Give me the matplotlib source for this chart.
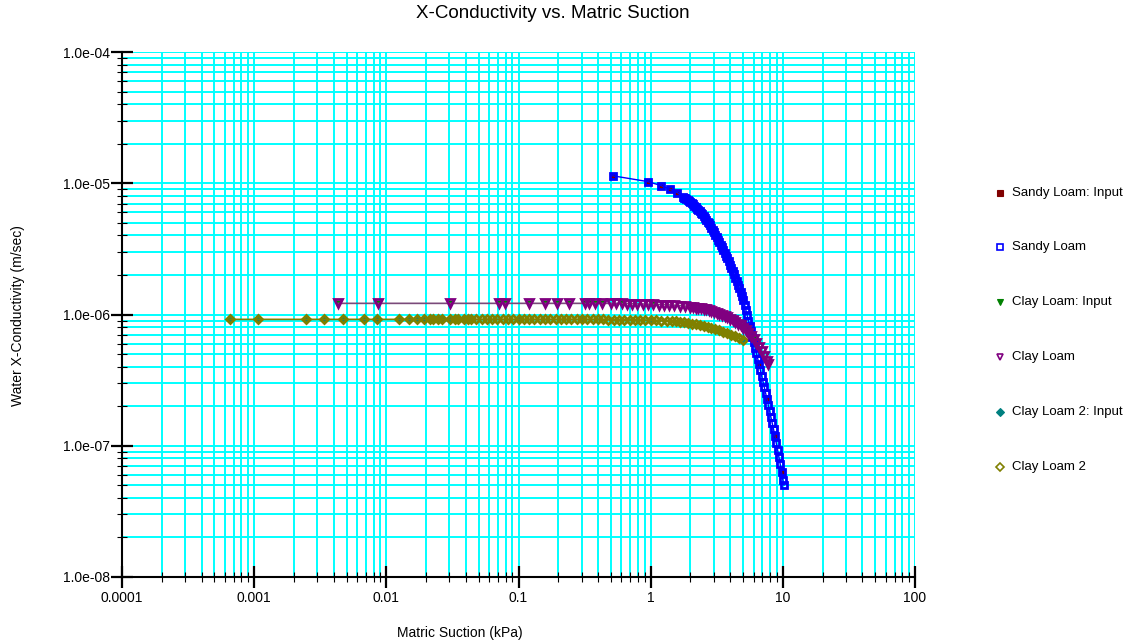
import matplotlib
matplotlib.use("Agg")
import matplotlib.pyplot as plt
from matplotlib.lines import Line2D
from matplotlib.ticker import LogLocator, FixedLocator, NullFormatter, FixedFormatter

plt.rcParams['font.family'] = ['Liberation Sans', 'DejaVu Sans']

title = "X-Conductivity vs. Matric Suction"
x_label = "Matric Suction (kPa)"
y_label = "Water X-Conductivity (m/sec)"
x_ticks = [0.0001, 0.001, 0.01, 0.1, 1, 10, 100]
x_tick_labels = ["0.0001", "0.001", "0.01", "0.1", "1", "10", "100"]
y_ticks = [1e-8, 1e-7, 1e-6, 1e-5, 1e-4]
y_tick_labels = ["1.0e-08", "1.0e-07", "1.0e-06", "1.0e-05", "1.0e-04"]
legend_labels = ["Sandy Loam: Input", "Sandy Loam", "Clay Loam: Input",
                 "Clay Loam", "Clay Loam 2: Input", "Clay Loam 2"]

# ---- Sandy Loam (computed) ----
sandy_x = [0.516, 0.948, 1.20, 1.40, 1.59, 1.75,
           1.778, 1.820, 1.862, 1.905, 1.950, 1.995, 2.042, 2.089, 2.138, 2.188,
           2.239, 2.291, 2.344, 2.399, 2.455, 2.512, 2.570, 2.630, 2.692, 2.754,
           2.818, 2.884, 2.951, 3.020, 3.090, 3.162, 3.236, 3.311, 3.388, 3.467,
           3.548, 3.631, 3.715, 3.802, 3.890, 3.981, 4.074, 4.169, 4.266, 4.365,
           4.467, 4.571, 4.677, 4.786, 4.898,
           5.012, 5.129, 5.248, 5.370, 5.495, 5.623, 5.754, 5.888, 6.026, 6.166,
           6.310, 6.457, 6.607, 6.761, 6.918, 7.079, 7.244, 7.413, 7.586, 7.762,
           7.943, 8.128, 8.318, 8.511, 8.710, 8.913, 9.120, 9.333, 9.550, 9.772,
           10.0, 10.19]
sandy_y = [1.14e-5, 1.03e-5, 9.6e-6, 9.0e-6, 8.5e-6, 7.9e-6,
           7.75e-6, 7.67e-6, 7.55e-6, 7.43e-6, 7.31e-6, 7.19e-6, 7.05e-6, 6.90e-6,
           6.72e-6, 6.55e-6, 6.40e-6, 6.25e-6, 6.11e-6, 5.98e-6, 5.81e-6, 5.64e-6,
           5.46e-6, 5.28e-6, 5.11e-6, 4.95e-6, 4.77e-6, 4.59e-6, 4.41e-6, 4.23e-6,
           4.06e-6, 3.89e-6, 3.72e-6, 3.56e-6, 3.40e-6, 3.24e-6, 3.09e-6, 2.95e-6,
           2.81e-6, 2.68e-6, 2.54e-6, 2.40e-6, 2.27e-6, 2.14e-6, 2.02e-6, 1.91e-6,
           1.79e-6, 1.68e-6, 1.58e-6, 1.48e-6, 1.39e-6,
           1.297e-6, 1.186e-6, 1.081e-6, 9.86e-7, 8.99e-7, 8.20e-7, 7.48e-7,
           6.79e-7, 6.17e-7, 5.60e-7, 5.07e-7, 4.60e-7, 4.17e-7, 3.77e-7, 3.40e-7,
           3.08e-7, 2.78e-7, 2.51e-7, 2.26e-7, 2.04e-7, 1.84e-7, 1.65e-7, 1.48e-7,
           1.33e-7, 1.19e-7, 1.05e-7, 9.33e-8, 8.22e-8, 7.24e-8, 6.31e-8, 5.50e-8,
           5.01e-8]
# ---- Sandy Loam: Input ----
sandy_in_x = [0.516, 0.948, 1.20, 1.40, 1.59, 1.75, 1.995, 2.399, 3.020, 3.981,
              5.012, 6.607, 7.586, 8.710, 9.772]
sandy_in_y = [1.14e-5, 1.03e-5, 9.6e-6, 9.0e-6, 8.5e-6, 7.9e-6, 7.19e-6, 5.98e-6,
              4.23e-6, 2.40e-6, 1.297e-6, 4.17e-7, 2.26e-7, 1.19e-7, 6.31e-8]

# ---- Clay Loam (computed) ----
clay_x = [0.00434, 0.00869, 0.0303, 0.0711, 0.079, 0.121, 0.158, 0.195, 0.241,
          0.318, 0.343, 0.380, 0.426,
          0.501, 0.550, 0.603, 0.661, 0.724, 0.794, 0.871, 0.955, 1.047, 1.148,
          1.259, 1.380, 1.514, 1.660, 1.820, 1.995, 2.089, 2.188, 2.291, 2.399,
          2.512, 2.630, 2.754, 2.884, 3.020, 3.162, 3.311, 3.467, 3.631, 3.802,
          3.981, 4.169, 4.365, 4.571, 4.786, 5.012, 5.248, 5.495, 5.754, 6.026,
          6.310, 6.607, 6.918, 7.244, 7.586, 7.727]
clay_y = [1.216e-6, 1.216e-6, 1.216e-6, 1.216e-6, 1.216e-6, 1.216e-6, 1.216e-6,
          1.216e-6, 1.216e-6, 1.216e-6, 1.216e-6, 1.216e-6, 1.216e-6,
          1.216e-6, 1.216e-6, 1.213e-6, 1.211e-6, 1.208e-6, 1.205e-6, 1.202e-6,
          1.199e-6, 1.197e-6, 1.191e-6, 1.189e-6, 1.183e-6, 1.178e-6, 1.169e-6,
          1.159e-6, 1.146e-6, 1.138e-6, 1.130e-6, 1.122e-6, 1.114e-6, 1.107e-6,
          1.096e-6, 1.084e-6, 1.069e-6, 1.052e-6, 1.033e-6, 1.012e-6, 9.91e-7,
          9.70e-7, 9.51e-7, 9.29e-7, 9.04e-7, 8.79e-7, 8.53e-7, 8.26e-7, 7.94e-7,
          7.62e-7, 7.28e-7, 6.89e-7, 6.52e-7, 6.11e-7, 5.69e-7, 5.27e-7, 4.86e-7,
          4.45e-7, 4.22e-7]
# ---- Clay Loam: Input ----
clay_in_x = [0.00434, 0.00869, 0.0303, 0.0711, 0.079, 0.121, 0.158, 0.195, 0.241,
             0.318, 0.343, 0.380, 0.426, 0.603, 1.047, 1.995, 3.020, 4.365, 6.026, 7.727]
clay_in_y = [1.216e-6, 1.216e-6, 1.216e-6, 1.216e-6, 1.216e-6, 1.216e-6, 1.216e-6,
             1.216e-6, 1.216e-6, 1.216e-6, 1.216e-6, 1.216e-6, 1.216e-6, 1.213e-6,
             1.197e-6, 1.146e-6, 1.052e-6, 8.79e-7, 6.52e-7, 4.22e-7]

# ---- Clay Loam 2 (computed) ----
clay2_x = [0.000656, 0.00107, 0.00247, 0.0034, 0.00472, 0.00681, 0.00845, 0.0125,
           0.0148, 0.0170, 0.0194, 0.0214, 0.0226, 0.0247, 0.0262, 0.0303, 0.0331,
           0.0350, 0.0389, 0.0417,
           0.0437, 0.0479, 0.0525, 0.0575, 0.0631, 0.0692, 0.0759, 0.0832, 0.0912,
           0.100, 0.110, 0.120, 0.132, 0.145, 0.158, 0.174, 0.191, 0.209, 0.229,
           0.251, 0.275, 0.302, 0.331, 0.363, 0.398, 0.437, 0.479, 0.525, 0.575,
           0.631, 0.692, 0.759, 0.832, 0.912, 1.000, 1.096, 1.202, 1.318, 1.445,
           1.549, 1.660, 1.778, 1.905, 2.042, 2.188, 2.344, 2.512, 2.692, 2.884,
           3.090, 3.311, 3.548, 3.802, 4.074, 4.365, 4.677, 5.012]
clay2_y = [9.18e-7, 9.18e-7, 9.18e-7, 9.18e-7, 9.18e-7, 9.18e-7, 9.18e-7, 9.18e-7,
           9.18e-7, 9.18e-7, 9.18e-7, 9.18e-7, 9.18e-7, 9.18e-7, 9.18e-7, 9.18e-7,
           9.18e-7, 9.18e-7, 9.18e-7, 9.18e-7,
           9.18e-7, 9.18e-7, 9.18e-7, 9.18e-7, 9.18e-7, 9.18e-7, 9.18e-7, 9.18e-7,
           9.18e-7, 9.18e-7, 9.18e-7, 9.18e-7, 9.18e-7, 9.18e-7, 9.18e-7, 9.18e-7,
           9.18e-7, 9.18e-7, 9.18e-7, 9.18e-7, 9.18e-7, 9.18e-7, 9.18e-7, 9.18e-7,
           9.18e-7, 9.17e-7, 9.16e-7, 9.15e-7, 9.14e-7, 9.13e-7, 9.12e-7, 9.10e-7,
           9.08e-7, 9.06e-7, 9.05e-7, 9.02e-7, 8.99e-7, 8.95e-7, 8.92e-7, 8.86e-7,
           8.79e-7, 8.71e-7, 8.63e-7, 8.53e-7, 8.41e-7, 8.28e-7, 8.15e-7, 8.03e-7,
           7.90e-7, 7.76e-7, 7.62e-7, 7.39e-7, 7.18e-7, 6.98e-7, 6.80e-7, 6.60e-7,
           6.39e-7]
# ---- Clay Loam 2: Input ----
clay2_in_x = [0.000656, 0.00107, 0.00247, 0.0034, 0.00472, 0.00681, 0.00845, 0.0125,
              0.0148, 0.0170, 0.0194, 0.0214, 0.0226, 0.0247, 0.0262, 0.0303, 0.0331,
              0.0350, 0.0389, 0.0417, 0.100, 0.302, 1.000, 3.090, 5.012]
clay2_in_y = [9.18e-7, 9.18e-7, 9.18e-7, 9.18e-7, 9.18e-7, 9.18e-7, 9.18e-7, 9.18e-7,
              9.18e-7, 9.18e-7, 9.18e-7, 9.18e-7, 9.18e-7, 9.18e-7, 9.18e-7, 9.18e-7,
              9.18e-7, 9.18e-7, 9.18e-7, 9.18e-7, 9.18e-7, 9.18e-7, 9.05e-7, 7.76e-7,
              6.39e-7]

fig = plt.figure(figsize=(11.32, 6.44), dpi=100)
ax = fig.add_axes([122 / 1132, 1 - 577 / 644, 793 / 1132, 525 / 644])
ax.set_xscale('log')
ax.set_yscale('log')
ax.set_xlim(1e-4, 100)
ax.set_ylim(1e-8, 1e-4)

cyan = '#00FFFF'
ax.xaxis.set_major_locator(FixedLocator(x_ticks))
ax.xaxis.set_major_formatter(FixedFormatter(x_tick_labels))
ax.yaxis.set_major_locator(FixedLocator(y_ticks))
ax.yaxis.set_major_formatter(FixedFormatter(y_tick_labels))
ax.xaxis.set_minor_locator(LogLocator(base=10, subs=range(2, 10), numticks=20))
ax.yaxis.set_minor_locator(LogLocator(base=10, subs=range(2, 10), numticks=20))
ax.xaxis.set_minor_formatter(NullFormatter())
ax.yaxis.set_minor_formatter(NullFormatter())
ax.grid(True, which='both', color=cyan, linewidth=1.4)
ax.set_axisbelow(True)

for s in ('top', 'right'):
    ax.spines[s].set_visible(False)
for s in ('left', 'bottom'):
    ax.spines[s].set_linewidth(1.5)

ax.tick_params(which='major', direction='inout', length=16, width=1.6, labelsize=10, pad=2)
ax.tick_params(which='minor', direction='inout', length=7, width=0.8)
ax.tick_params(axis='y', which='major', pad=1)

ax.plot(sandy_in_x, sandy_in_y, ls='none', marker='s', ms=2.6, color='#800000', zorder=3)
ax.plot(sandy_x, sandy_y, color='#0000FF', lw=1, marker='s', ms=4.8, mfc='none',
        mec='#0000FF', mew=2.0, zorder=4)
ax.plot(clay_in_x, clay_in_y, ls='none', marker='v', ms=3.0, color='#008000', zorder=5)
ax.plot(clay_x, clay_y, color='#7a4a7a', lw=1.2, marker='v', ms=5.4, mfc='none',
        mec='#800080', mew=2.0, zorder=6)
ax.plot(clay2_in_x, clay2_in_y, ls='none', marker='D', ms=2.4, color='#008080', zorder=3)
ax.plot(clay2_x, clay2_y, color='#808000', lw=1.2, marker='D', ms=4.2, mfc='none',
        mec='#808000', mew=2.0, zorder=3.5)

fig.text(553 / 1132, 1 - 13 / 644, title, ha='center', va='center', fontsize=13.5)
fig.text(460 / 1132, 1 - 633 / 644, x_label, ha='center', va='center', fontsize=10)
fig.text(18 / 1132, 1 - 316 / 644, y_label, ha='center', va='center', fontsize=10,
         rotation=90)

# legend (marker + text), placed in figure coordinates
leg_y = [193, 247, 302, 357, 412, 467]
leg_style = [dict(marker='s', ms=4.5, mfc='#800000', mec='#800000', mew=0.8),
             dict(marker='s', ms=4.5, mfc='none', mec='#0000FF', mew=1.2),
             dict(marker='v', ms=5, mfc='#008000', mec='#008000', mew=0.8),
             dict(marker='v', ms=5, mfc='none', mec='#800080', mew=1.2),
             dict(marker='D', ms=3.8, mfc='#008080', mec='#008080', mew=0.8),
             dict(marker='D', ms=3.8, mfc='none', mec='#808000', mew=1.2)]
for lab, yy, st in zip(legend_labels, leg_y, leg_style):
    yf = 1 - yy / 644
    fig.add_artist(Line2D([1000 / 1132], [yf], ls='none', transform=fig.transFigure, **st))
    fig.text(1012 / 1132, yf, lab, ha='left', va='center', fontsize=9.5)

fig.savefig('out.png', dpi=100)
